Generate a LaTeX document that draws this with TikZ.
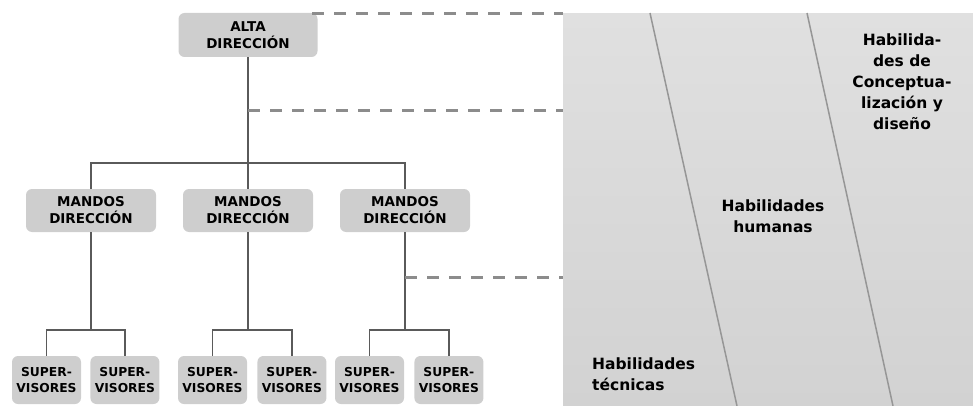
\documentclass[tikz,border=0pt]{standalone}
\usepackage{fontspec}
\setmainfont{DejaVu Sans}
\usepackage{tikz}
\usetikzlibrary{positioning}
\usepackage{xcolor}

\definecolor{boxgray}{RGB}{206,206,206}
\definecolor{linegray}{RGB}{90,90,90}
\definecolor{dashgray}{RGB}{140,140,140}
\definecolor{paneltop}{RGB}{224,224,224}
\definecolor{panelbot}{RGB}{210,210,210}
\definecolor{diaggray}{RGB}{150,150,150}

\begin{document}
\begin{tikzpicture}[
      x=1pt, y=-1pt,
      every node/.style={font=\bfseries},
      jefe/.style={rectangle, rounded corners=6pt, fill=boxgray, inner sep=0pt, align=center, minimum width=139pt, minimum height=44pt, font=\bfseries\fontsize{13.5}{17}\selectfont},
      mando/.style={jefe, minimum width=130pt, minimum height=43pt},
      super/.style={jefe, minimum width=69pt, minimum height=48pt, font=\bfseries\fontsize{12.3}{16}\selectfont},
      panel/.style={rectangle, top color=paneltop, bottom color=panelbot, inner sep=0pt, minimum width=410pt, minimum height=393pt},
      skill/.style={inner sep=0pt, align=center, font=\bfseries\fontsize{15.5}{21}\selectfont},
      tree/.style={draw=linegray, line width=1.3pt},
      level/.style={draw=dashgray, line width=3pt, dash pattern=on 12pt off 10pt},
      border/.style={draw=diaggray, line width=1.5pt}
    ]

    \useasboundingbox (0,0) rectangle (973,406);

    % Skills panel
    \node[panel, anchor=north west] (panel) at (563,13) {};
    \coordinate (d1top) at (650,13);
    \coordinate (d1bot) at (737,406);
    \coordinate (d2top) at (807,13);
    \coordinate (d2bot) at (893,406);
    \draw[border] (d1top) -- (d1bot);
    \draw[border] (d2top) -- (d2bot);

    \node[skill, anchor=north] (concep) at (902,34) {Habilida-\\des de\\Conceptua-\\lización y\\diseño};
    \node[skill, anchor=north] (humanas) at (773,200) {Habilidades\\humanas};
    \node[skill, anchor=north west, align=left] (tecnicas) at (592,358) {Habilidades\\técnicas};

    % Nodes
    \node[jefe] (alta) at (248,35) {ALTA\\DIRECCIÓN};

    \node[mando] (m1) at (91,210.5) {MANDOS\\DIRECCIÓN};
    \node[mando] (m2) at (248,210.5) {MANDOS\\DIRECCIÓN};
    \node[mando] (m3) at (405,210.5) {MANDOS\\DIRECCIÓN};

    \node[super] (s1) at (46.5,380) {SUPER-\\VISORES};
    \node[super, right=9pt of s1] (s2) {SUPER-\\VISORES};
    \node[super] (s3) at (212.5,380) {SUPER-\\VISORES};
    \node[super, right=10pt of s3] (s4) {SUPER-\\VISORES};
    \node[super] (s5) at (369.5,380) {SUPER-\\VISORES};
    \node[super, right=10pt of s5] (s6) {SUPER-\\VISORES};

    % Lines
    \coordinate (hub) at (248,163);
    \draw[tree] (alta.south) -- (hub);
    \draw[tree] (m1.north) |- (hub) -| (m3.north);
    \draw[tree] (hub) -- (m2.north);

    \coordinate (j1) at (91,330);
    \coordinate (j2) at (248,330);
    \coordinate (j3) at (405,330);
    \draw[tree] (m1.south) -- (j1);
    \draw[tree] (m2.south) -- (j2);
    \draw[tree] (m3.south) -- (j3);
    \draw[tree] (s1.north) |- (j1) -| (s2.north);
    \draw[tree] (s3.north) |- (j2) -| (s4.north);
    \draw[tree] (s5.north) |- (j3) -| (s6.north);

    % Levels
    \coordinate (l1) at (312,14);
    \coordinate (l2) at (248,111);
    \coordinate (l3) at (405,277);
    \draw[level] (l1) -- (l1 -| panel.west);
    \draw[level] (l2) -- (l2 -| panel.west);
    \draw[level] (l3) -- (l3 -| panel.west);

\end{tikzpicture}
\end{document}
